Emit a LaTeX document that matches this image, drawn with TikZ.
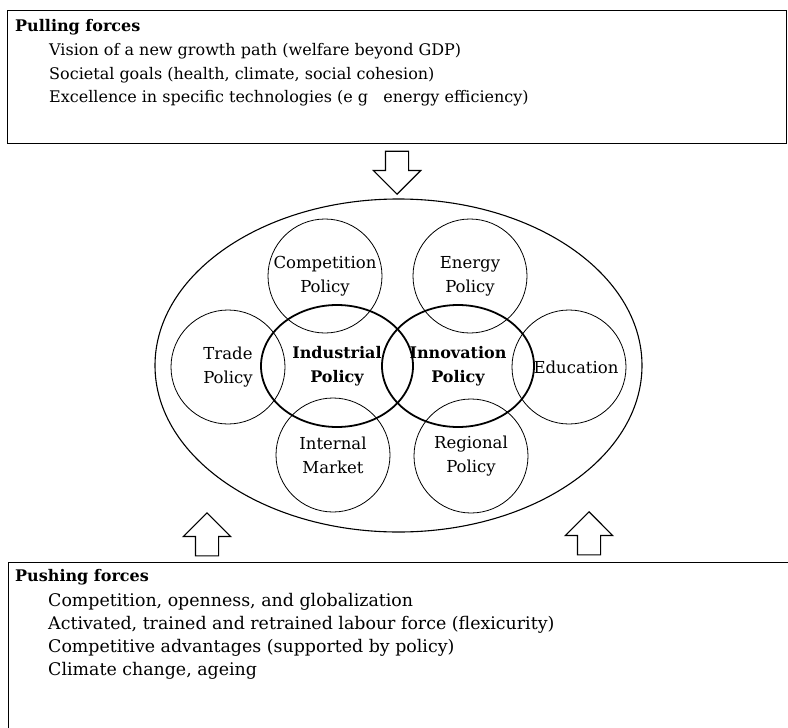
\documentclass[tikz,border=0pt]{standalone}
\usepackage{fontspec}
\setmainfont{DejaVu Serif}
\usepackage{tikz}
\usetikzlibrary{shapes,shapes.arrows}

\begin{document}
\begin{tikzpicture}[x=1pt,y=-1pt]
    \tikzstyle{forces} = [draw, shape=rectangle, line width=1.4pt, inner sep=0pt, anchor=north west]
    \tikzstyle{heading} = [font=\fontsize{16}{23}\selectfont\bfseries, inner sep=0pt, anchor=base west]
    \tikzstyle{item} = [font=\fontsize{16}{23}\selectfont, inner sep=0pt, anchor=base west]
    \tikzstyle{pushitem} = [item, font=\fontsize{17.4}{23}\selectfont]
    \tikzstyle{policy} = [draw, shape=circle, minimum size=114pt, inner sep=0pt, align=center, font=\fontsize{16.5}{24}\selectfont, line width=0.8pt]
    \tikzstyle{core} = [draw, shape=ellipse, minimum width=152pt, minimum height=122pt, inner sep=0pt, align=center, font=\fontsize{16}{24}\selectfont\bfseries, line width=1.8pt]
    \tikzstyle{hollow} = [draw, single arrow, line width=1.2pt, inner xsep=0pt, inner ysep=11pt, minimum height=43pt, single arrow head extend=12pt, anchor=tip]
    \useasboundingbox (0,0) rectangle (788,728);

    %Pulling forces box
    \node [forces, minimum width=779pt, minimum height=133pt] (pull) at (7,10) {};
    \node [heading] (pull_head) at (15,31) {Pulling forces};
    \node [item] (pull_1) at (49,56) {Vision of a new growth path (welfare beyond GDP)};
    \node [item] (pull_2) at (49,79) {Societal goals (health, climate, social cohesion)};
    \node [item] (pull_3) at (49,102) {Excellence in specific technologies (e g\ \ \ energy efficiency)};

    %Pushing forces box
    \node [forces, minimum width=800pt, minimum height=190pt] (push) at (8,562) {};
    \node [heading] (push_head) at (15,581) {Pushing forces};
    \node [pushitem] (push_1) at (48,606) {Competition, openness, and globalization};
    \node [pushitem] (push_2) at (48,629) {Activated, trained and retrained labour force (flexicurity)};
    \node [pushitem] (push_3) at (48,652) {Competitive advantages (supported by policy)};
    \node [pushitem] (push_4) at (48,675) {Climate change, ageing};

    %Policy field
    \node [draw, shape=ellipse, minimum width=487pt, minimum height=333pt, line width=1.1pt] (field) at (398.5,365.5) {};
    \node [policy] (competition) at (325,276) {Competition\\Policy};
    \node [policy] (energy) at (470,276) {Energy\\Policy};
    \node [policy] (trade) at (228,367) {Trade\\Policy};
    \node [policy] (education) at (569,367) {\hspace*{14pt}Education};
    \node [policy] (internal) at (333,455) {Internal\\Market};
    \node [policy] (regional) at (471,456) {Regional\\Policy};
    \node [core] (industrial) at (337,366) {Industrial\\Policy};
    \node [core] (innovation) at (458,366) {Innovation\\Policy};

    %Forces acting on the field
    \node [hollow, rotate=-90] (pull_arrow) at (397,195) {};
    \node [hollow, rotate=90] (push_arrow_1) at (207,512) {};
    \node [hollow, rotate=90] (push_arrow_2) at (589,511) {};
\end{tikzpicture}
\end{document}
